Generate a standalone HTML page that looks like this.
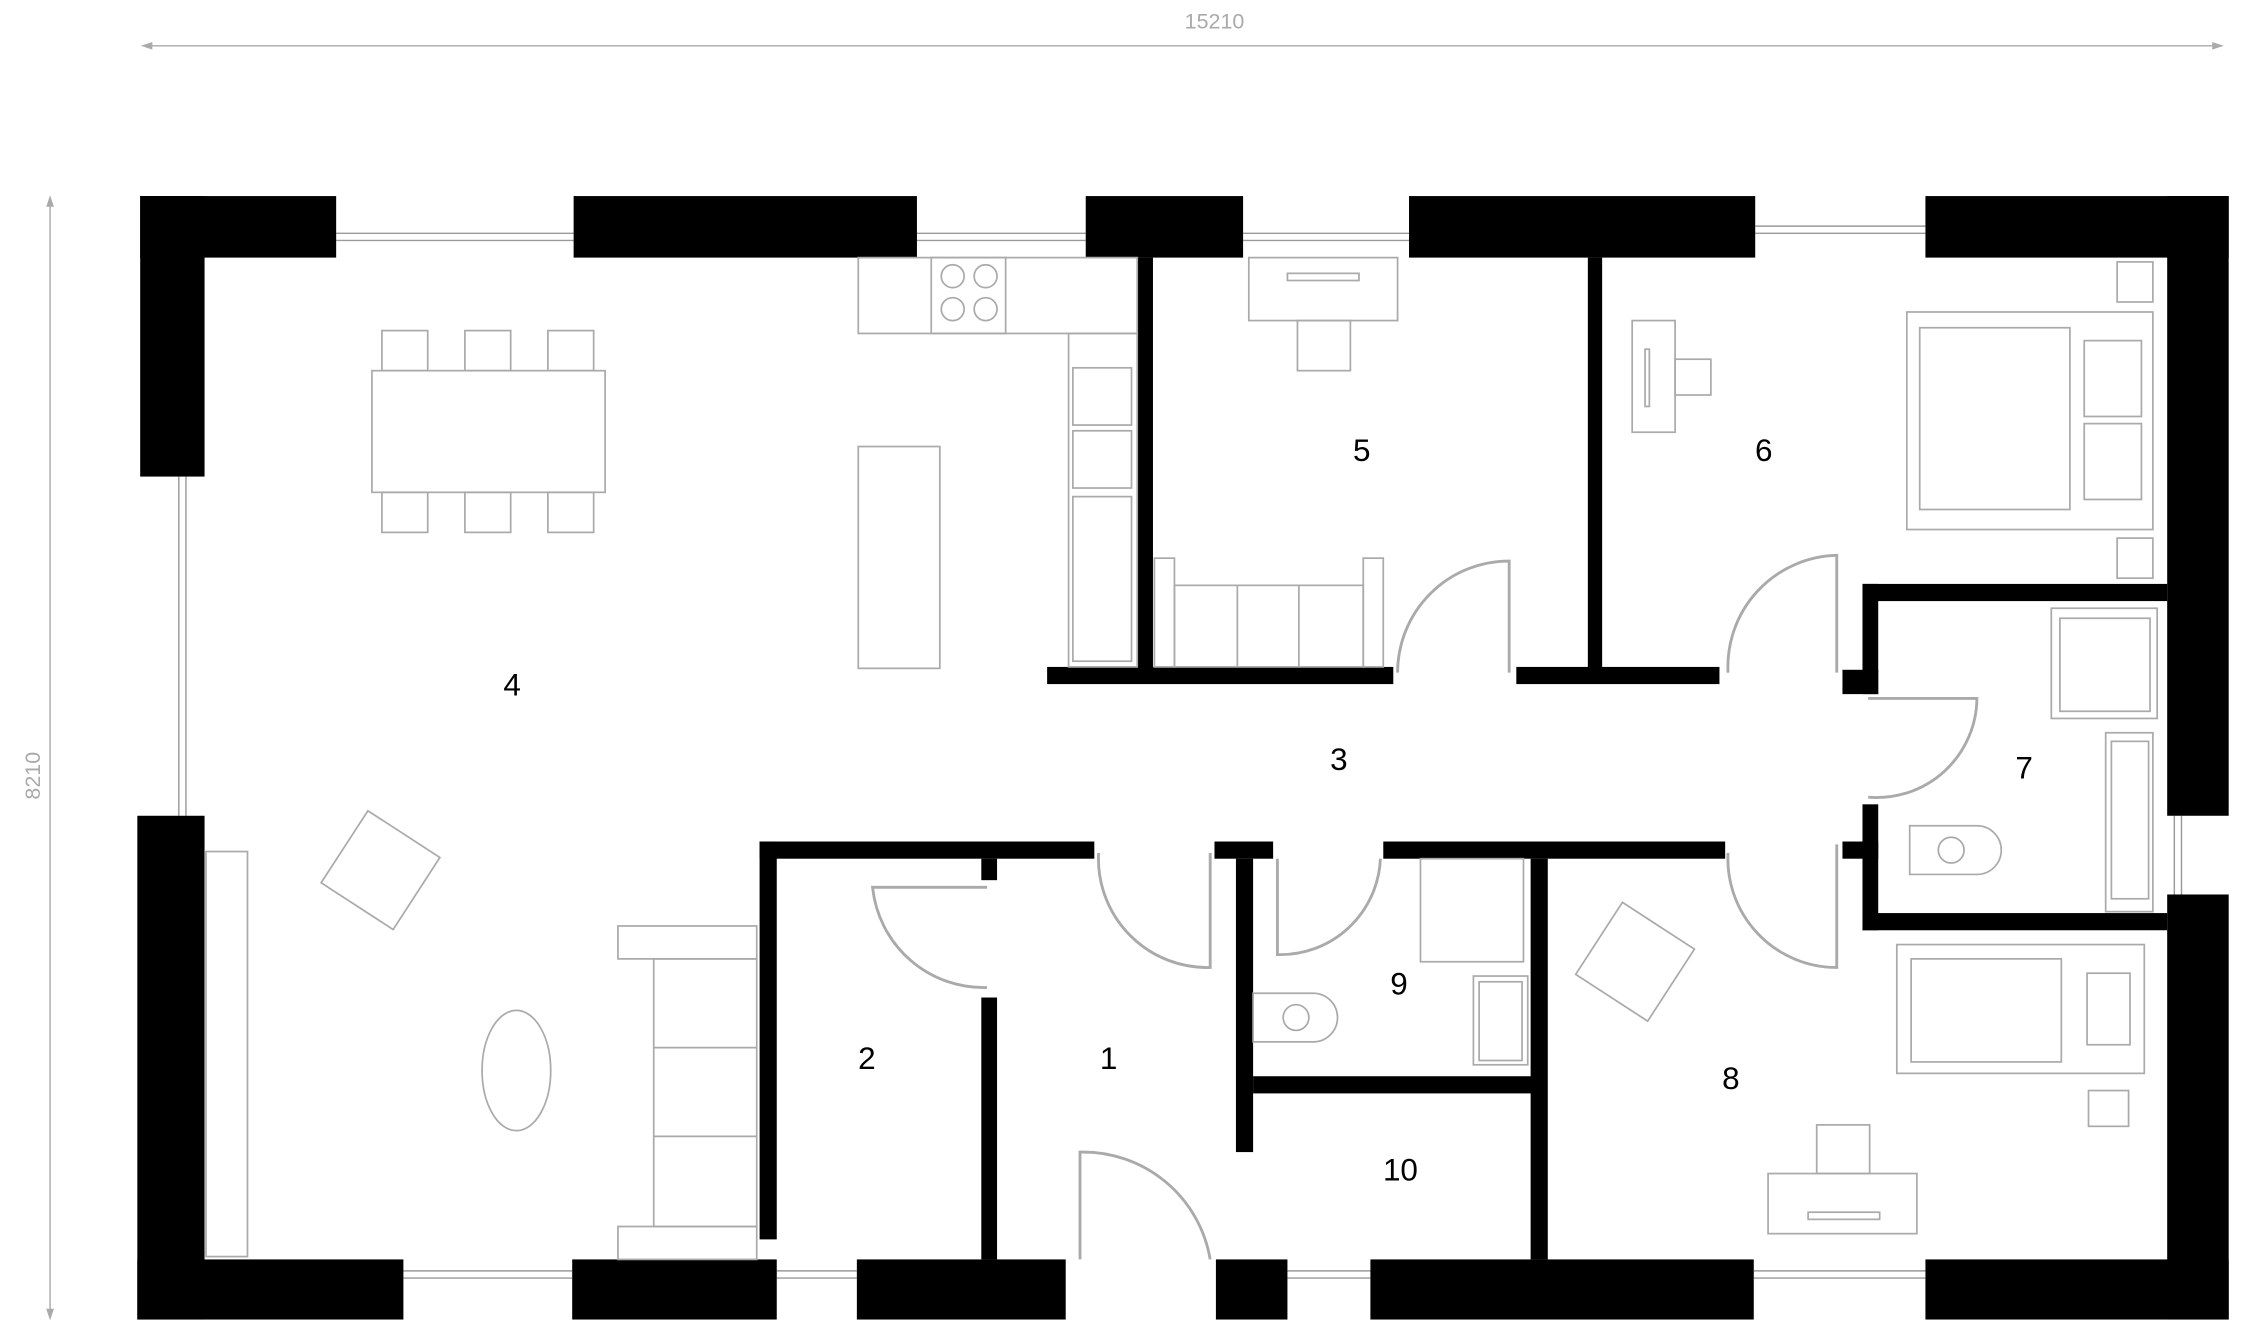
<!DOCTYPE html>
<html><head><meta charset="utf-8"><style>
html,body{margin:0;padding:0;background:#fff;}
svg{display:block;}
text{font-family:"Liberation Sans",sans-serif;}
</style></head><body>
<svg width="2243" height="1341" viewBox="0 0 1568 937" preserveAspectRatio="none" xmlns="http://www.w3.org/2000/svg">
<rect width="1568" height="937" fill="#fff"/>
<!-- dimensions -->
<g stroke="#aaa" stroke-width="1" fill="#aaa">
<line x1="101" y1="32" x2="1552" y2="32"/>
<polygon points="100,32 106,30 106,34"/><polygon points="1553,32 1547,30 1547,34"/>
<line x1="35" y1="139" x2="35" y2="920"/>
<polygon points="35,138 33,144 37,144"/><polygon points="35,921 33,915 37,915"/>
</g>
<text x="849" y="20" font-size="15" fill="#aaa" text-anchor="middle">15210</text>
<text x="22" y="548" font-size="15" fill="#aaa" text-anchor="middle" transform="rotate(-90 22 542)">8210</text>
<!-- windows -->
<g stroke="#999" stroke-width="1" fill="none">
<path d="M235 163H401M235 168H401M641 163H759M641 168H759M869 163H985M869 168H985M1227 158H1346M1227 163H1346"/>
<path d="M125 333V570M130 333V570"/>
<path d="M282 888H400M282 893H400M543 888H599M543 893H599M900 888H958M900 893H958M1226 888H1346M1226 893H1346"/>
<path d="M1520 570V625M1525 570V625"/>
</g>
<!-- outer walls -->
<g fill="#000">
<rect x="98" y="137" width="137" height="43"/>
<rect x="98" y="137" width="45" height="196"/>
<rect x="401" y="137" width="240" height="43"/>
<rect x="759" y="137" width="110" height="43"/>
<rect x="985" y="137" width="242" height="43"/>
<rect x="1346" y="137" width="212" height="43"/>
<rect x="1515" y="137" width="43" height="433"/>
<rect x="1515" y="625" width="43" height="297"/>
<rect x="96" y="570" width="47" height="352"/>
<rect x="96" y="880" width="186" height="42"/>
<rect x="400" y="880" width="143" height="42"/>
<rect x="599" y="880" width="146" height="42"/>
<rect x="850" y="880" width="50" height="42"/>
<rect x="958" y="880" width="268" height="42"/>
<rect x="1346" y="880" width="212" height="42"/>
<!-- interior -->
<rect x="795" y="180" width="11" height="290"/>
<rect x="732" y="466" width="242" height="12"/>
<rect x="1110" y="180" width="10" height="290"/>
<rect x="1060" y="466" width="142" height="12"/>
<rect x="1302" y="408" width="213" height="12"/>
<rect x="1302" y="408" width="11" height="77"/>
<rect x="1288" y="468" width="25" height="17"/>
<rect x="1302" y="562" width="11" height="88"/>
<rect x="1288" y="588" width="25" height="12"/>
<rect x="1302" y="638" width="213" height="12"/>
<rect x="531" y="588" width="234" height="12"/>
<rect x="531" y="588" width="12" height="278"/>
<rect x="686" y="600" width="11" height="15"/>
<rect x="686" y="697" width="11" height="183"/>
<rect x="849" y="588" width="41" height="12"/>
<rect x="864" y="600" width="12" height="205"/>
<rect x="876" y="752" width="200" height="12"/>
<rect x="1070" y="600" width="12" height="280"/>
<rect x="967" y="588" width="239" height="12"/>
</g>
<!-- doors -->
<g stroke="#aaa" stroke-width="2" fill="none">
<path d="M1055 470V392A78 78 0 0 0 977 470"/>
<path d="M1284 470V388A78 78 0 0 0 1208 470"/>
<path d="M1306 488H1382A70 70 0 0 1 1306 557"/>
<path d="M1284 590V676A76 76 0 0 1 1208 596"/>
<path d="M846 596V676A76 76 0 0 1 768 596"/>
<path d="M893 600V667A70 70 0 0 0 965 600"/>
<path d="M690 620H610A78 78 0 0 0 690 690"/>
<path d="M755 880V805A90 90 0 0 1 846 880"/>
</g>
<!-- furniture -->
<g stroke="#aaa" stroke-width="1.2" fill="none">
<rect x="260" y="259" width="163" height="85"/>
<rect x="267" y="231" width="32" height="28"/><rect x="325" y="231" width="32" height="28"/><rect x="383" y="231" width="32" height="28"/>
<rect x="267" y="344" width="32" height="28"/><rect x="325" y="344" width="32" height="28"/><rect x="383" y="344" width="32" height="28"/>
<rect x="600" y="180" width="195" height="53"/>
<rect x="651" y="180" width="52" height="53"/>
<circle cx="666" cy="193" r="8"/><circle cx="689" cy="193" r="8"/><circle cx="666" cy="216" r="8"/><circle cx="689" cy="216" r="8"/>
<rect x="747" y="233" width="48" height="233"/>
<rect x="750" y="257" width="41" height="40"/><rect x="750" y="301" width="41" height="40"/><rect x="750" y="347" width="41" height="115"/>
<rect x="600" y="312" width="57" height="155"/>
<rect x="873" y="180" width="104" height="44"/><rect x="900" y="191" width="50" height="5"/>
<rect x="907" y="224" width="37" height="35"/>
<rect x="807" y="390" width="14" height="76"/><rect x="953" y="390" width="14" height="76"/>
<rect x="821" y="409" width="132" height="57"/><line x1="865" y1="409" x2="865" y2="466"/><line x1="908" y1="409" x2="908" y2="466"/>
<rect x="1141" y="224" width="30" height="78"/><rect x="1150" y="244" width="3" height="40"/><rect x="1171" y="251" width="25" height="25"/>
<rect x="1333" y="218" width="172" height="152"/><rect x="1342" y="229" width="105" height="127"/>
<rect x="1457" y="238" width="40" height="53"/><rect x="1457" y="296" width="40" height="53"/>
<rect x="1480" y="183" width="25" height="28"/><rect x="1480" y="376" width="25" height="28"/>
<rect x="1434" y="425" width="74" height="77"/><rect x="1440" y="432" width="63" height="65"/>
<rect x="1472" y="512" width="33" height="125"/><rect x="1476" y="518" width="26" height="110"/>
<path d="M1335 577H1382A16 16 0 0 1 1382 611H1335Z"/><circle cx="1364" cy="594" r="9"/>
<rect x="993" y="600" width="72" height="72"/><rect x="1030" y="682" width="38" height="62"/><rect x="1034" y="686" width="30" height="55"/>
<path d="M876 694H918A16 16 0 0 1 918 728H876Z"/><circle cx="906" cy="711" r="9"/>
<rect x="1326" y="660" width="173" height="90"/><rect x="1336" y="670" width="105" height="72"/><rect x="1459" y="680" width="30" height="50"/>
<rect x="1460" y="762" width="28" height="25"/>
<rect x="1236" y="820" width="104" height="42"/><rect x="1264" y="847" width="50" height="5"/>
<rect x="1270" y="786" width="37" height="34"/>
<g transform="rotate(33 1143 672)"><rect x="1113" y="642" width="60" height="60"/></g>
<g transform="rotate(33 266 608)"><rect x="236" y="578" width="60" height="60"/></g>
<rect x="144" y="595" width="29" height="283"/>
<ellipse cx="361" cy="748" rx="24" ry="42"/>
<rect x="432" y="647" width="97" height="23"/><rect x="432" y="857" width="97" height="23"/>
<rect x="457" y="670" width="72" height="187"/><line x1="457" y1="732" x2="529" y2="732"/><line x1="457" y1="794" x2="529" y2="794"/>
</g>
<!-- labels -->
<g font-size="22" fill="#000" text-anchor="middle">
<text x="775" y="747">1</text><text x="606" y="747">2</text><text x="936" y="538">3</text>
<text x="358" y="486">4</text><text x="952" y="322">5</text><text x="1233" y="322">6</text>
<text x="1415" y="544">7</text><text x="1210" y="761">8</text><text x="978" y="695">9</text>
<text x="979" y="825">10</text>
</g>
</svg>
</body></html>
